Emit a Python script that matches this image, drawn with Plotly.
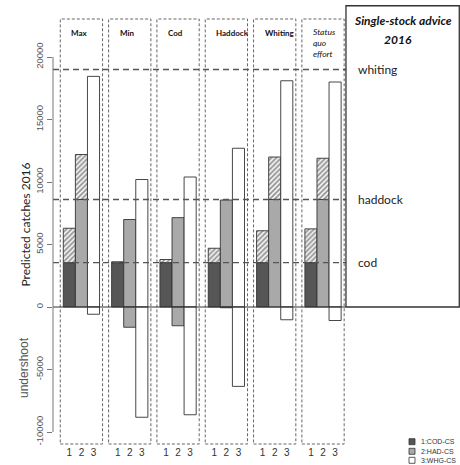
import plotly.graph_objects as go

# ---------------- data ----------------
scenarios = ["Max", "Min", "Cod", "Haddock", "Whiting", "Status<br>quo<br>effort"]
species = ["1:COD-CS", "2:HAD-CS", "3:WHG-CS"]
advice_names = ["cod", "haddock", "whiting"]
advice = [3550, 8600, 19000]                     # single-stock advice 2016
cod_catch = [6300, 3620, 3800, 4700, 6100, 6250]
had_catch = [12200, 7000, 7150, 8560, 12000, 11900]
whg_catch = [18450, 10200, 10400, 12700, 18100, 18000]
cod_under = [0, 0, 0, 0, 0, 0]
had_under = [0, -1620, -1500, -60, 0, 0]
whg_under = [-580, -8820, -8620, -6350, -1020, -1080]
y_ticks = [-10000, -5000, 0, 5000, 10000, 15000, 20000]
bar_labels = ["1", "2", "3"]

# ---------------- style ----------------
fills = ["#565656", "#a9a9a9", "#ffffff"]
edge = "#333333"
W, H = 460, 465
ML, MB = 53, 20
XR = [0.147, 33.84]
YR = [-11040, 24560]
panel_top, panel_bot = 23040, -10960
box_x0 = 24.4
box_top = 24100

catches = [cod_catch, had_catch, whg_catch]
unders = [cod_under, had_under, whg_under]
n = len(scenarios)

fig = go.Figure()
for s in range(3):
    xs = [4 * g + s + 1.5 for g in range(n)]
    main = [min(c, advice[s]) for c in catches[s]]
    over = [c - advice[s] if c > advice[s] else None for c in catches[s]]
    und = [u if u < 0 else None for u in unders[s]]
    fig.add_trace(go.Bar(x=xs, y=main, base=0, width=1,
                         marker=dict(color=fills[s], line=dict(color=edge, width=0.9))))
    fig.add_trace(go.Bar(x=xs, y=over, base=advice[s], width=1,
                         marker=dict(color="white", line=dict(color=edge, width=0.9),
                                     pattern=dict(shape="/", size=3.5, solidity=0.55,
                                                  fgcolor="#2a2a2a", bgcolor="white"))))
    fig.add_trace(go.Bar(x=xs, y=und, base=0, width=1,
                         marker=dict(color=fills[s], line=dict(color=edge, width=0.9))))

shapes = []
# scenario panels
for g in range(n):
    shapes.append(dict(type="rect", xref="x", yref="y", x0=4 * g + 0.75, x1=4 * g + 4.25,
                       y0=panel_bot, y1=panel_top,
                       line=dict(color="#666666", width=1, dash="3px,2px"), layer="below"))
# advice lines
for a in advice:
    shapes.append(dict(type="line", xref="x", yref="y", x0=XR[0], x1=box_x0, y0=a, y1=a,
                       line=dict(color="#555555", width=1.3, dash="6px,4px")))
# zero line
shapes.append(dict(type="line", xref="x", yref="y", x0=XR[0], x1=box_x0, y0=0, y1=0,
                   line=dict(color="#333333", width=1)))
# advice box
shapes.append(dict(type="rect", xref="x", yref="y", x0=box_x0, x1=XR[1] - 0.06,
                   y0=0, y1=box_top, line=dict(color="#333333", width=1.3)))
# y axis line
shapes.append(dict(type="line", xref="paper", yref="y", x0=0, x1=0,
                   y0=min(y_ticks), y1=max(y_ticks), line=dict(color="#777777", width=1)))

annotations = []
for g, name in enumerate(scenarios):
    if "<br>" in name:
        annotations.append(dict(x=4 * g + 1.5, y=panel_top - 450, xref="x", yref="y",
                                text="<i>" + name + "</i>", showarrow=False,
                                xanchor="left", yanchor="top", align="left",
                                font=dict(family="Lato", size=8.5, color="#111111")))
    else:
        annotations.append(dict(x=4 * g + 1.5, y=21900, xref="x", yref="y",
                                text="<b>" + name + "</b>", showarrow=False,
                                xanchor="left", yanchor="middle",
                                font=dict(family="Lato", size=8, color="#111111")))
# advice box texts
annotations.append(dict(x=(box_x0 + XR[1]) / 2, y=(307 - 20) / 0.0125, xref="x", yref="y",
                        text="<b><i>Single-stock advice</i></b>", showarrow=False,
                        font=dict(family="Lato", size=12, color="#111111")))
annotations.append(dict(x=(box_x0 + XR[1]) / 2 - 0.4, y=(307 - 39) / 0.0125, xref="x", yref="y",
                        text="<b><i>2016</i></b>", showarrow=False,
                        font=dict(family="Lato", size=12, color="#111111")))
for nm, a in zip(advice_names, advice):
    annotations.append(dict(x=box_x0 + 0.8, y=a, xref="x", yref="y", text=nm,
                            showarrow=False, xanchor="left", yanchor="middle",
                            font=dict(family="Lato", size=12, color="#222222")))
# axis titles
annotations.append(dict(x=(15 - ML) / (W - ML), y=6560, xref="paper", yref="y",
                        text="Predicted catches 2016", textangle=-90, showarrow=False,
                        font=dict(family="Lato", size=12, color="#222222")))
annotations.append(dict(x=(15 - ML) / (W - ML), y=-4880, xref="paper", yref="y",
                        text="undershoot", textangle=-90, showarrow=False,
                        font=dict(family="Liberation Sans", size=12, color="#555555")))
# legend
PH = H - MB
leg_y = [441.7, 451.3, 460.3]
for i in range(3):
    py = leg_y[i]
    shapes.append(dict(type="rect", xref="paper", yref="paper",
                       x0=(409 - ML) / (W - ML), x1=(415 - ML) / (W - ML),
                       y0=1 - (py + 3) / PH, y1=1 - (py - 3) / PH,
                       fillcolor=fills[i], line=dict(color=edge, width=0.8)))
    annotations.append(dict(x=(418.5 - ML) / (W - ML), y=1 - py / PH, xref="paper", yref="paper",
                            text=species[i], showarrow=False, xanchor="left", yanchor="middle",
                            font=dict(family="Liberation Sans", size=7, color="#333333")))

tick_x = [4 * g + s + 1.5 for g in range(n) for s in range(3)]
fig.update_layout(
    width=W, height=H, margin=dict(l=ML, r=0, t=0, b=MB),
    paper_bgcolor="white", plot_bgcolor="white",
    barmode="overlay", showlegend=False,
    shapes=shapes, annotations=annotations,
    xaxis=dict(range=XR, showgrid=False, zeroline=False, showline=False,
               tickvals=tick_x, ticktext=bar_labels * n, ticks="",
               tickfont=dict(family="Liberation Sans", size=10, color="#333333")),
    yaxis=dict(range=YR, showgrid=False, zeroline=False, showline=False,
               tickvals=y_ticks, ticktext=[str(t) for t in y_ticks], ticks="outside",
               ticklen=5, tickcolor="#777777", tickangle=-90,
               tickfont=dict(family="Liberation Sans", size=9.5, color="#555555")),
)
fig.write_html("out.html")
